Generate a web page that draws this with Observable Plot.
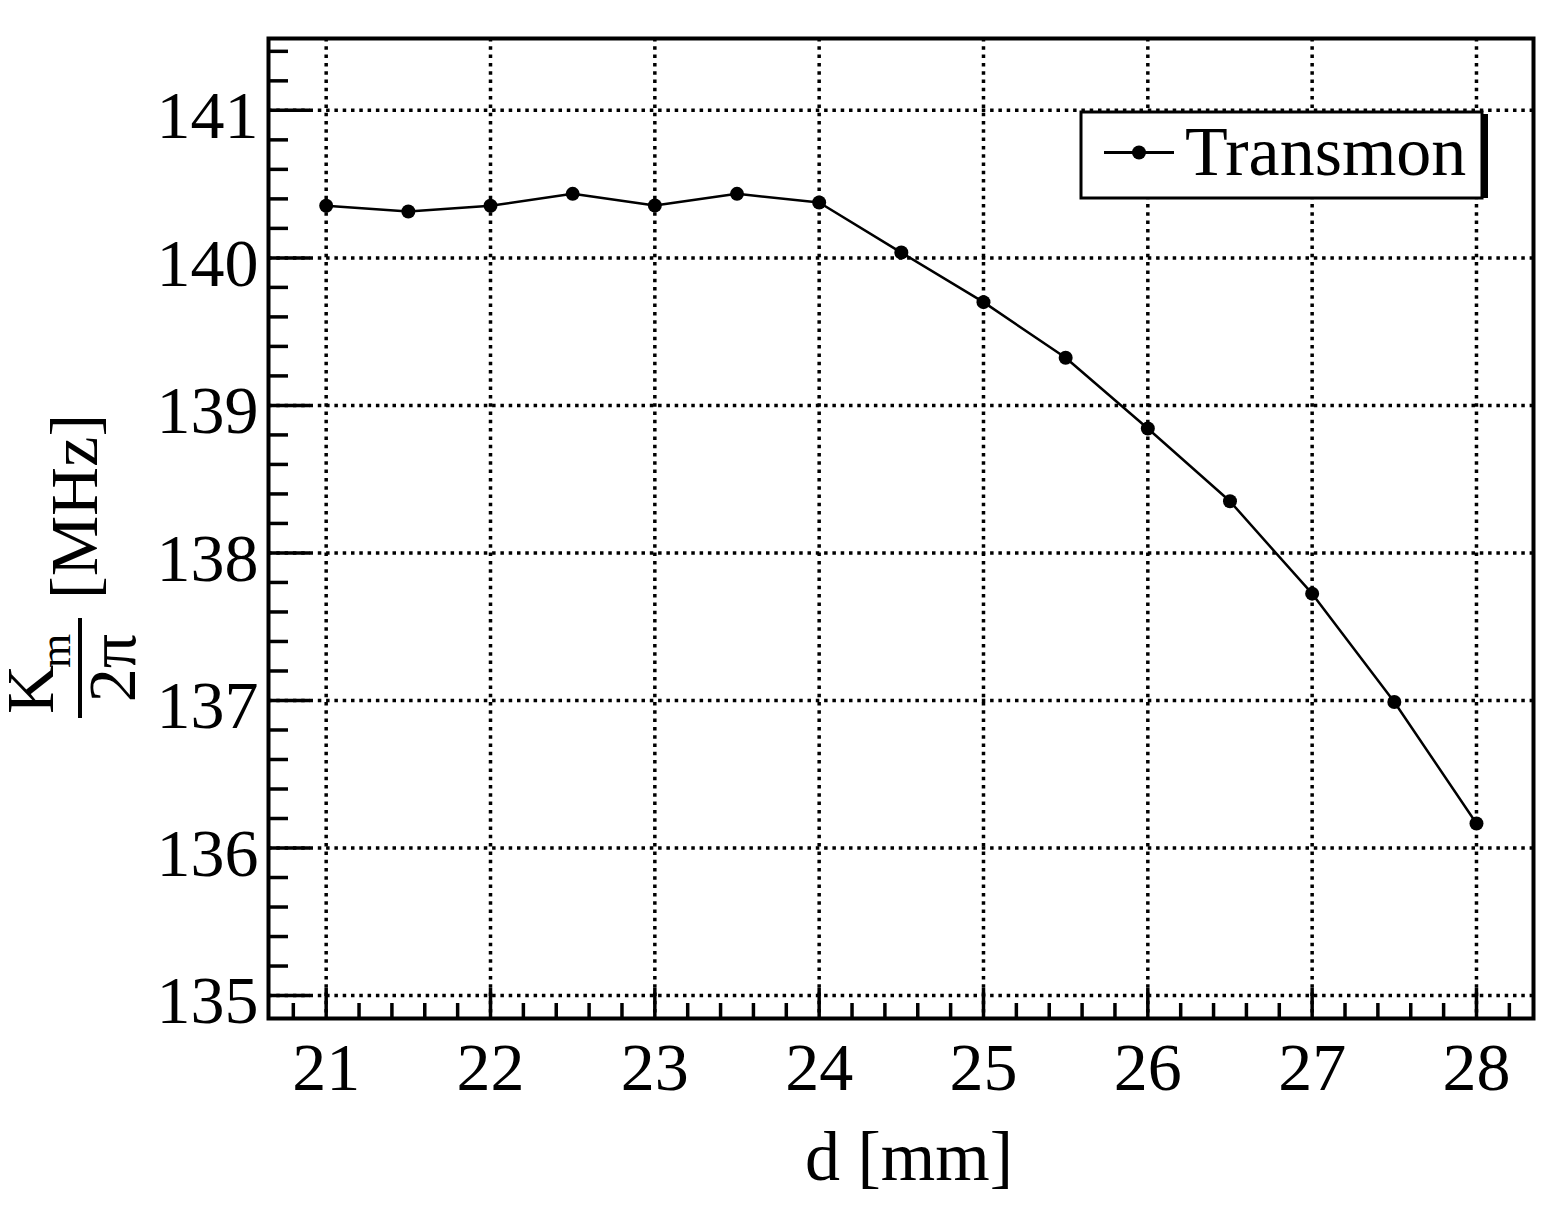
<!DOCTYPE html>
<html><head><meta charset="utf-8">
<script src="https://cdn.jsdelivr.net/npm/d3@7"></script>
<script src="https://cdn.jsdelivr.net/npm/@observablehq/plot@0.6"></script>
<style>body{margin:0;background:#fff;overflow:hidden}</style>
</head><body><div id="chart"></div>
<script>
// Data
const dValues  = [21, 21.5, 22, 22.5, 23, 23.5, 24, 24.5, 25, 25.5, 26, 26.5, 27, 27.5, 28];
const kmValues = [140.353, 140.314, 140.353, 140.434, 140.355, 140.434, 140.375, 140.036, 139.70, 139.323, 138.844, 138.35, 137.724, 136.99, 136.166];
const xTickLabels = [21, 22, 23, 24, 25, 26, 27, 28];
const yTickLabels = [135, 136, 137, 138, 139, 140, 141];
const seriesName = "Transmon";
const xTitle = "d [mm]";

const data = dValues.map((d, i) => ({d, km: kmValues[i]}));
const xMinor = d3.range(20.8, 28.3, 0.2).map(v => +v.toFixed(1)).filter(v => !xTickLabels.includes(v));
const yMinor = d3.range(135, 141.45, 0.2).map(v => +v.toFixed(1)).filter(v => !yTickLabels.includes(v));

const FONT = "'Liberation Serif', 'Times New Roman', serif";
const gridStyle = {stroke: "black", strokeOpacity: 1, strokeWidth: 3.5, strokeDasharray: "3.5,4.8"};

const plot = Plot.plot({
  width: 1555, height: 1208,
  marginLeft: 268, marginRight: 22, marginTop: 38, marginBottom: 190,
  style: {fontFamily: FONT, background: "white", color: "black"},
  x: {domain: [20.649, 28.347]},
  y: {domain: [134.8444, 141.487]},
  marks: [
    Plot.gridX(xTickLabels, gridStyle),
    Plot.gridY(yTickLabels, gridStyle),
    Plot.axisX(xMinor, {tickSize: -15, text: null, strokeWidth: 3.5, label: null}),
    Plot.axisX(xTickLabels, {tickSize: -30, text: null, strokeWidth: 3.5, label: null}),
    Plot.axisX(xTickLabels, {tickSize: 0, tickPadding: 23, fontSize: 68, tickFormat: d => String(d), label: null}),
    Plot.axisY(yMinor, {tickSize: -20, text: null, strokeWidth: 3.5, label: null}),
    Plot.axisY(yTickLabels, {tickSize: -42, text: null, strokeWidth: 3.5, label: null}),
    Plot.axisY(yTickLabels, {tickSize: 0, tickPadding: 10, fontSize: 68, dy: 6, tickFormat: d => String(d), label: null}),
    Plot.line(data, {x: "d", y: "km", stroke: "black", strokeWidth: 2.5}),
    Plot.dot(data, {x: "d", y: "km", r: 7, fill: "black", stroke: "none"}),
    Plot.frame({stroke: "black", strokeWidth: 4})
  ]
});

const svg = d3.select(plot);

// x-axis title
svg.append("text").attr("x", 909).attr("y", 1180).attr("text-anchor", "middle")
  .attr("font-family", FONT).attr("font-size", 70).attr("fill", "black").text(xTitle);

// y-axis title: K_m / 2π [MHz]
const yt = svg.append("g").attr("transform", "rotate(-90)").attr("font-family", FONT)
  .attr("fill", "black").attr("text-anchor", "start");
yt.append("text").attr("x", -714).attr("y", 53).attr("font-size", 68).attr("text-anchor", "start").text("K");
yt.append("text").attr("x", -668).attr("y", 70).attr("font-size", 44).attr("text-anchor", "start").text("m");
yt.append("line").attr("x1", -718).attr("x2", -618).attr("y1", 80).attr("y2", 80).attr("stroke", "black").attr("stroke-width", 4);
yt.append("text").attr("x", -668).attr("y", 135).attr("text-anchor", "middle").attr("font-size", 68).text("2π");
yt.append("text").attr("x", -599).attr("y", 97).attr("font-size", 68).attr("text-anchor", "start").text("[MHz]");

// legend
const lg = svg.append("g");
lg.append("rect").attr("x", 1481).attr("y", 114).attr("width", 7).attr("height", 84).attr("fill", "black");
lg.append("rect").attr("x", 1081).attr("y", 112).attr("width", 401).attr("height", 86).attr("fill", "white").attr("stroke", "black").attr("stroke-width", 3);
lg.append("line").attr("x1", 1104).attr("x2", 1174).attr("y1", 152.5).attr("y2", 152.5).attr("stroke", "black").attr("stroke-width", 3);
lg.append("circle").attr("cx", 1139).attr("cy", 152.5).attr("r", 7).attr("fill", "black");
lg.append("text").attr("x", 1185).attr("y", 175).attr("text-anchor", "start").attr("font-family", FONT)
  .attr("font-size", 70).attr("fill", "black").text(seriesName);

document.getElementById("chart").appendChild(plot);
</script>
</body></html>
